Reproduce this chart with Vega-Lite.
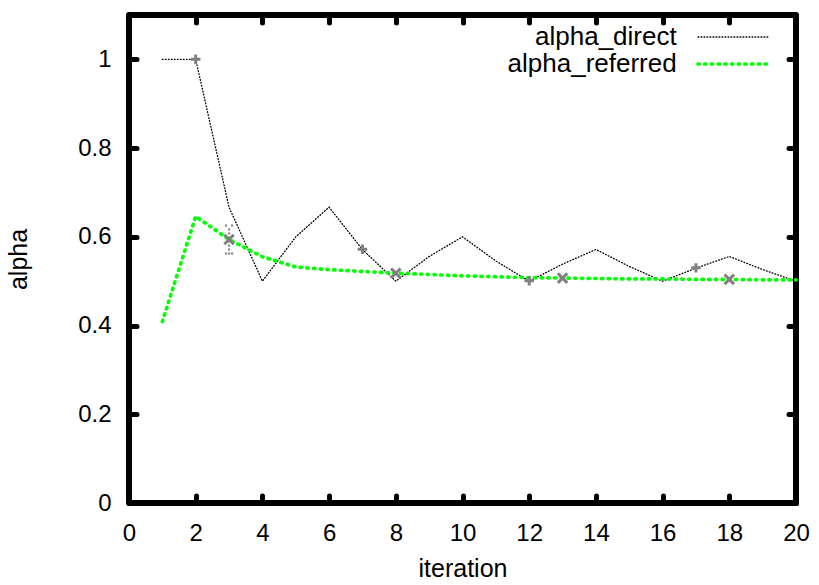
{
  "$schema": "https://vega.github.io/schema/vega-lite/v6.json",
  "width": 667,
  "height": 488,
  "autosize": {"type": "none"},
  "padding": {"left": 129, "top": 15, "right": 23, "bottom": 82},
  "background": "white",
  "datasets": {
    "series": [
      {"iteration": 1, "alpha": 1.0, "series": "alpha_direct"},
      {"iteration": 2, "alpha": 1.0, "series": "alpha_direct"},
      {"iteration": 3, "alpha": 0.6667, "series": "alpha_direct"},
      {"iteration": 4, "alpha": 0.5, "series": "alpha_direct"},
      {"iteration": 5, "alpha": 0.6, "series": "alpha_direct"},
      {"iteration": 6, "alpha": 0.6667, "series": "alpha_direct"},
      {"iteration": 7, "alpha": 0.5714, "series": "alpha_direct"},
      {"iteration": 8, "alpha": 0.5, "series": "alpha_direct"},
      {"iteration": 9, "alpha": 0.5556, "series": "alpha_direct"},
      {"iteration": 10, "alpha": 0.6, "series": "alpha_direct"},
      {"iteration": 11, "alpha": 0.5455, "series": "alpha_direct"},
      {"iteration": 12, "alpha": 0.5, "series": "alpha_direct"},
      {"iteration": 13, "alpha": 0.5385, "series": "alpha_direct"},
      {"iteration": 14, "alpha": 0.5714, "series": "alpha_direct"},
      {"iteration": 15, "alpha": 0.5333, "series": "alpha_direct"},
      {"iteration": 16, "alpha": 0.5, "series": "alpha_direct"},
      {"iteration": 17, "alpha": 0.5294, "series": "alpha_direct"},
      {"iteration": 18, "alpha": 0.5556, "series": "alpha_direct"},
      {"iteration": 19, "alpha": 0.5263, "series": "alpha_direct"},
      {"iteration": 20, "alpha": 0.5, "series": "alpha_direct"},
      {"iteration": 1, "alpha": 0.409, "series": "alpha_referred"},
      {"iteration": 2, "alpha": 0.646, "series": "alpha_referred"},
      {"iteration": 3, "alpha": 0.594, "series": "alpha_referred"},
      {"iteration": 4, "alpha": 0.555, "series": "alpha_referred"},
      {"iteration": 5, "alpha": 0.532, "series": "alpha_referred"},
      {"iteration": 6, "alpha": 0.526, "series": "alpha_referred"},
      {"iteration": 7, "alpha": 0.522, "series": "alpha_referred"},
      {"iteration": 8, "alpha": 0.518, "series": "alpha_referred"},
      {"iteration": 9, "alpha": 0.515, "series": "alpha_referred"},
      {"iteration": 10, "alpha": 0.512, "series": "alpha_referred"},
      {"iteration": 11, "alpha": 0.51, "series": "alpha_referred"},
      {"iteration": 12, "alpha": 0.508, "series": "alpha_referred"},
      {"iteration": 13, "alpha": 0.507, "series": "alpha_referred"},
      {"iteration": 14, "alpha": 0.506, "series": "alpha_referred"},
      {"iteration": 15, "alpha": 0.505, "series": "alpha_referred"},
      {"iteration": 16, "alpha": 0.505, "series": "alpha_referred"},
      {"iteration": 17, "alpha": 0.504, "series": "alpha_referred"},
      {"iteration": 18, "alpha": 0.504, "series": "alpha_referred"},
      {"iteration": 19, "alpha": 0.503, "series": "alpha_referred"},
      {"iteration": 20, "alpha": 0.503, "series": "alpha_referred"}
    ],
    "samples": [
      {"iteration": 2, "alpha": 1.0, "kind": "plus"},
      {"iteration": 3, "alpha": 0.594, "kind": "cross"},
      {"iteration": 7, "alpha": 0.572, "kind": "plus"},
      {"iteration": 8, "alpha": 0.518, "kind": "cross"},
      {"iteration": 12, "alpha": 0.501, "kind": "plus"},
      {"iteration": 13, "alpha": 0.507, "kind": "cross"},
      {"iteration": 17, "alpha": 0.53, "kind": "plus"},
      {"iteration": 18, "alpha": 0.504, "kind": "cross"}
    ],
    "spread": [
      {"iteration": 3, "lo": 0.5626, "hi": 0.6255}
    ]
  },
  "layer": [
    {
      "data": {"name": "series"},
      "mark": {"type": "line", "strokeCap": "round", "strokeJoin": "miter"},
      "encoding": {
        "x": {
          "field": "iteration",
          "type": "quantitative",
          "scale": {"domain": [0, 20], "nice": false, "zero": false},
          "axis": {
            "orient": "bottom",
            "title": "iteration",
            "values": [0, 2, 4, 6, 8, 10, 12, 14, 16, 18, 20],
            "format": "~g",
            "labelPadding": 18,
            "titlePadding": 11
          }
        },
        "y": {
          "field": "alpha",
          "type": "quantitative",
          "scale": {"domain": [0, 1.1], "nice": false, "zero": false},
          "axis": {
            "orient": "left",
            "title": "alpha",
            "values": [0, 0.2, 0.4, 0.6, 0.8, 1],
            "format": "~g",
            "labelPadding": 18,
            "titlePadding": 46
          }
        },
        "stroke": {
          "field": "series",
          "type": "nominal",
          "scale": {"domain": ["alpha_direct", "alpha_referred"], "range": ["#000000", "#00ff00"]},
          "legend": {
            "encode": {"symbols": {"update": {"strokeCap": {"value": "round"}}}}
          }
        },
        "strokeDash": {
          "field": "series",
          "type": "nominal",
          "scale": {"domain": ["alpha_direct", "alpha_referred"], "range": [[0.8, 2.2], [1.3, 5.4]]}
        },
        "strokeWidth": {
          "field": "series",
          "type": "nominal",
          "scale": {"domain": ["alpha_direct", "alpha_referred"], "range": [1.3, 3.7]}
        }
      }
    },
    {
      "data": {"name": "spread"},
      "mark": {"type": "rule", "color": "#8c8c8c", "strokeWidth": 2.5, "strokeCap": "round", "strokeDash": [0.01, 3.99]},
      "encoding": {
        "x": {"field": "iteration", "type": "quantitative", "axis": null},
        "y": {"field": "lo", "type": "quantitative", "axis": null},
        "y2": {"field": "hi"}
      }
    },
    {
      "data": {"name": "spread"},
      "mark": {"type": "point", "shape": "M-1,0L1,0", "size": 36, "filled": false, "color": "#8c8c8c", "opacity": 1, "strokeWidth": 2.5, "strokeCap": "round", "strokeDash": [0.01, 5.99]},
      "encoding": {
        "x": {"field": "iteration", "type": "quantitative", "axis": null},
        "y": {"field": "lo", "type": "quantitative", "axis": null}
      }
    },
    {
      "data": {"name": "spread"},
      "mark": {"type": "point", "shape": "M-1,0L1,0", "size": 36, "filled": false, "color": "#8c8c8c", "opacity": 1, "strokeWidth": 2.5, "strokeCap": "round", "strokeDash": [0.01, 5.99]},
      "encoding": {
        "x": {"field": "iteration", "type": "quantitative", "axis": null},
        "y": {"field": "hi", "type": "quantitative", "axis": null}
      }
    },
    {
      "data": {"name": "samples"},
      "mark": {"type": "point", "filled": false, "color": "#808080", "opacity": 1, "strokeWidth": 3, "size": 90},
      "encoding": {
        "x": {
          "field": "iteration",
          "type": "quantitative",
          "axis": {"orient": "top", "labels": false, "title": null, "values": [2, 4, 6, 8, 10, 12, 14, 16, 18]}
        },
        "y": {
          "field": "alpha",
          "type": "quantitative",
          "axis": {"orient": "right", "labels": false, "title": null, "values": [0.2, 0.4, 0.6, 0.8, 1]}
        },
        "shape": {
          "field": "kind",
          "type": "nominal",
          "scale": {"domain": ["plus", "cross"], "range": ["M-1,0L1,0M0,-1L0,1", "M-1,-1L1,1M-1,1L1,-1"]},
          "legend": null
        }
      }
    }
  ],
  "resolve": {"axis": {"x": "independent", "y": "independent"}},
  "config": {
    "view": {"stroke": "#000000", "strokeWidth": 6, "strokeJoin": "round"},
    "axis": {
      "domain": false,
      "grid": false,
      "ticks": true,
      "offset": -7.5,
      "zindex": 1,
      "tickColor": "#000000",
      "tickWidth": 5,
      "tickSize": 7.5,
      "tickCap": "round",
      "labelFlush": false,
      "labelOverlap": false,
      "labelFont": "Liberation Sans",
      "labelFontSize": 24,
      "labelColor": "#000000",
      "titleFont": "Liberation Sans",
      "titleFontSize": 25,
      "titleFontWeight": "normal",
      "titleColor": "#000000"
    },
    "legend": {
      "orient": "none",
      "legendX": 591.5,
      "legendY": 9,
      "title": null,
      "padding": 0,
      "offset": 0,
      "rowPadding": 1,
      "symbolType": "M-3.55,0L3.55,0",
      "symbolSize": 400,
      "labelAlign": "right",
      "labelOffset": -69.8,
      "labelLimit": 0,
      "labelFont": "Liberation Sans",
      "labelFontSize": 26,
      "labelColor": "#000000"
    }
  }
}
